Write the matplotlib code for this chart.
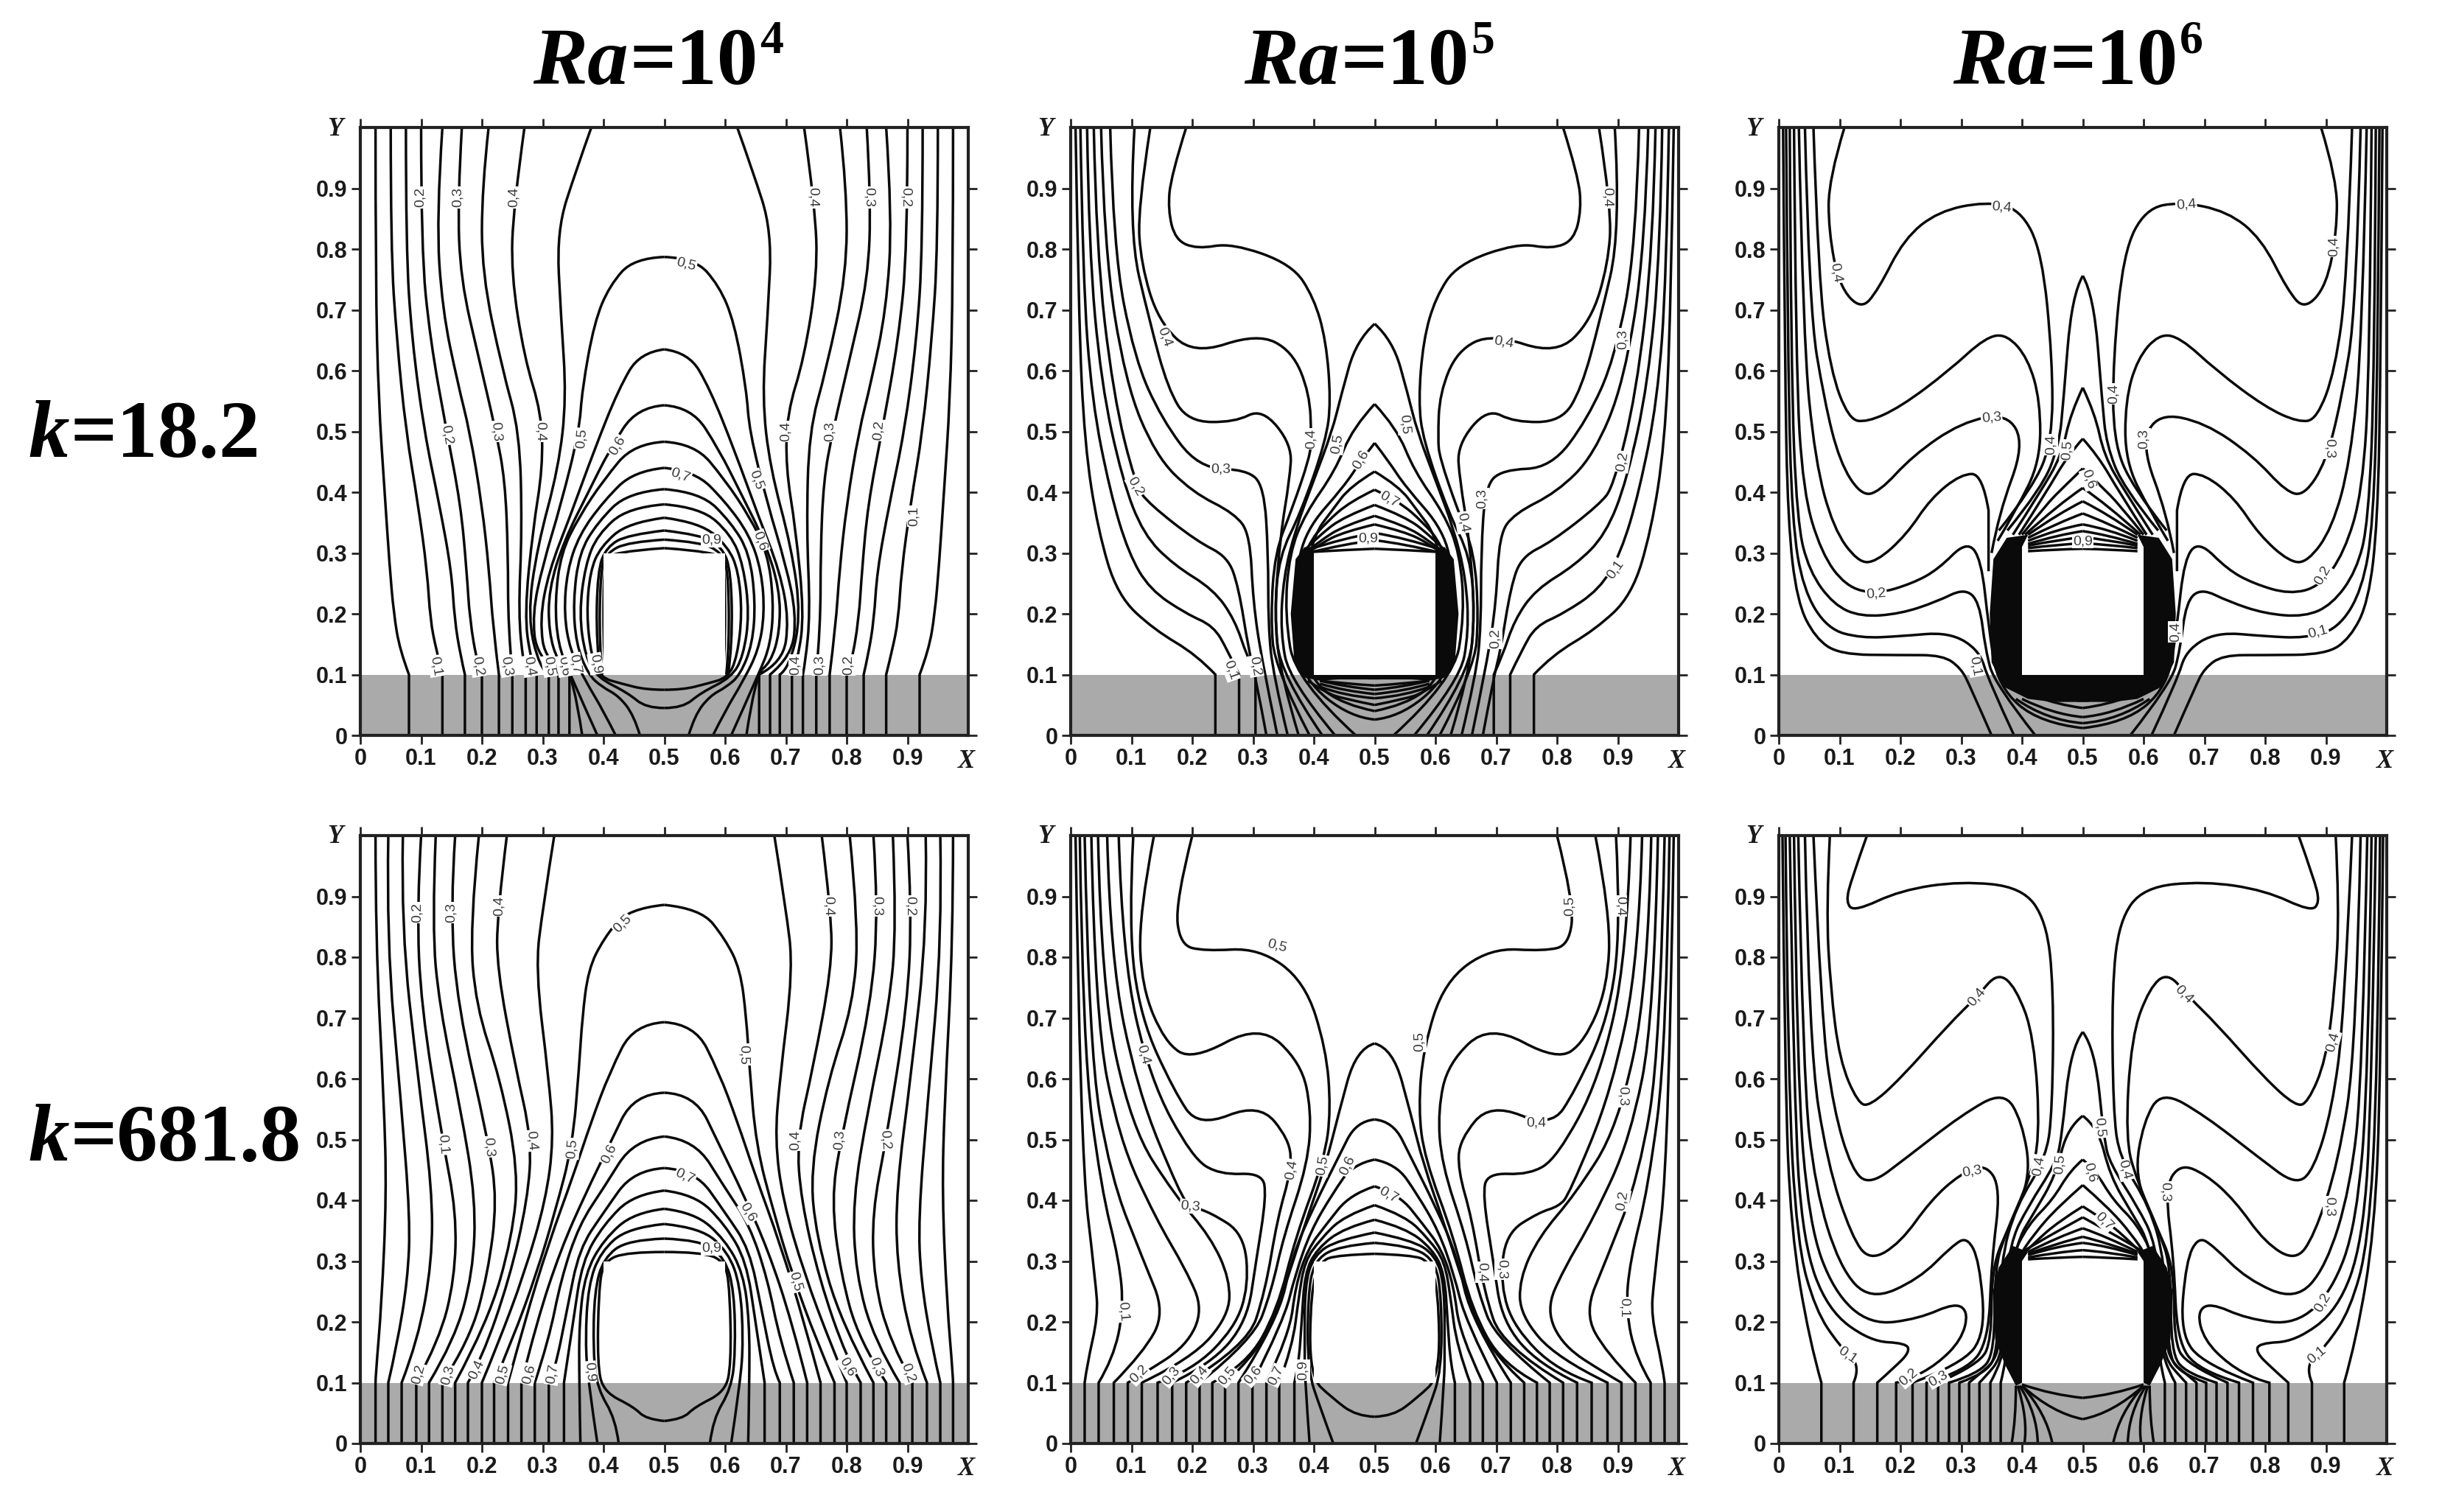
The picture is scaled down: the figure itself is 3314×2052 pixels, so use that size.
import matplotlib
matplotlib.use('Agg')
import matplotlib.pyplot as plt
from matplotlib.path import Path
from matplotlib.patches import PathPatch, Rectangle

W, H = 3314, 2052

# contour lines of the left half, each panel is mirrored about x=0.5
LINES_K18_RA4 = [
    [(.025,1),(.025,.75),(.03,.55),(.04,.4),(.048,.28),(.055,.2),(.065,.14),(.08,.1),(.08,0)],
    [(.05,1),(.05,.8),(.06,.65),(.075,.5),(.095,.38),(.11,.27),(.115,.19),(.125,.14),(.135,.1),(.135,0)],
    [(.075,1),(.075,.8),(.085,.65),(.105,.5),(.13,.38),(.15,.27),(.155,.19),(.165,.13),(.172,.1),(.172,0)],
    [(.1,1),(.1,.8),(.115,.65),(.142,.5),(.165,.38),(.175,.27),(.18,.19),(.193,.115),(.2,.1),(.2,0)],
    [(.135,1),(.125,.85),(.135,.7),(.16,.58),(.18,.5),(.2,.38),(.212,.27),(.218,.18),(.228,.1),(.228,0)],
    [(.167,1),(.16,.88),(.165,.75),(.195,.62),(.223,.5),(.238,.42),(.243,.3),(.243,.18),(.25,.1),(.25,0)],
    [(.211,1),(.2,.9),(.2,.76),(.234,.6),(.262,.5),(.266,.34),(.26,.2),(.268,.12),(.272,.1),(.272,0)],
    [(.27,1),(.252,.87),(.248,.76),(.27,.62),(.298,.53),(.3,.44),(.284,.34),(.27,.2),(.28,.125),(.29,.1),(.29,0)],
    [(.38,1),(.355,.93),(.323,.83),(.33,.69),(.339,.555),(.326,.44),(.291,.31),(.275,.195),(.295,.11),(.31,.1),(.31,0)],
    [(.5,.787),(.45,.785),(.41,.74),(.385,.68),(.365,.57),(.36,.5),(.33,.38),(.3,.28),(.283,.2),(.29,.13),(.326,.1),(.326,0)],
    [(.5,.635),(.46,.63),(.425,.57),(.385,.47),(.345,.36),(.31,.27),(.295,.19),(.305,.12),(.344,.1),(.344,0)],
    [(.5,.543),(.455,.54),(.41,.47),(.375,.4),(.335,.32),(.31,.24),(.31,.17),(.325,.12),(.35,.1),(.365,0)],
    [(.5,.483),(.45,.48),(.4,.42),(.36,.36),(.33,.3),(.32,.22),(.325,.15),(.345,.1),(.39,0)],
    [(.5,.44),(.45,.435),(.4,.385),(.36,.33),(.34,.27),(.335,.2),(.345,.14),(.37,.09),(.4,.04),(.42,0)],
    [(.5,.405),(.44,.4),(.39,.35),(.36,.3),(.35,.22),(.355,.15),(.375,.1),(.397,.08),(.425,.065),(.45,.033),(.46,0)],
    [(.5,.38),(.44,.375),(.39,.33),(.37,.28),(.36,.2),(.37,.13),(.39,.095),(.44,.07),(.47,.045),(.5,.045)],
    [(.5,.358),(.44,.35),(.395,.31),(.378,.27),(.372,.2),(.38,.13),(.395,.095),(.43,.085),(.47,.075),(.5,.075)],
    [(.5,.337),(.44,.33),(.405,.31),(.39,.27),(.388,.15),(.395,.1)],
    [(.5,.322),(.44,.318),(.405,.3),(.395,.27),(.393,.15),(.398,.1)],
    [(.5,.308),(.41,.302),(.4,.28),(.4,.12),(.405,.1)],
]
LABELS_K18_RA4 = [
    (.099,.885,'0,2',90),(.16,.885,'0,3',90),(.252,.885,'0,4',90),(.745,.885,'0,4',-90),(.837,.885,'0,3',-90),
    (.897,.885,'0,2',-90),(.142,.495,'0,2',-80),(.223,.5,'0,3',-85),(.296,.5,'0,4',-90),(.364,.488,'0,5',85),
    (.423,.476,'0,6',60),(.536,.775,'0,5',-15),(.527,.428,'0,7',-20),(.651,.42,'0,5',-70),(.658,.32,'0,6',-70),
    (.578,.321,'0,9',0),(.70,.5,'0,4',90),(.773,.5,'0,3',90),(.853,.502,'0,2',85),(.911,.361,'0,1',90),
    (.124,.114,'0,1',-80),(.193,.114,'0,2',-80),(.241,.114,'0,3',-80),(.278,.114,'0,4',-80),(.311,.114,'0,5',-80),
    (.335,.114,'0,6',-80),(.353,.118,'0,7',-80),(.387,.118,'0,9',-80),(.716,.116,'0,4',90),(.755,.116,'0,3',90),
    (.803,.116,'0,2',90),
]
BAND_K18_RA4 = []

LINES_K18_RA5 = [
    [(.008,1),(.013,.69),(.023,.478),(.045,.337),(.077,.23),(.137,.174),(.208,.132),(.238,.1),(.238,0)],
    [(.016,1),(.02,.75),(.035,.55),(.065,.4),(.095,.3),(.13,.24),(.19,.2),(.235,.18),(.258,.14),(.277,.1),(.277,0)],
    [(.027,1),(.03,.8),(.05,.58),(.085,.42),(.12,.33),(.17,.28),(.235,.24),(.27,.19),(.29,.13),(.304,.1),(.304,0)],
    [(.038,1),(.042,.8),(.07,.56),(.107,.41),(.13,.38),(.208,.319),(.258,.294),(.276,.245),(.293,.139),(.304,.097),(.322,0)],
    [(.05,1),(.055,.8),(.09,.58),(.14,.46),(.2,.40),(.27,.365),(.295,.33),(.30,.22),(.315,.12),(.34,0)],
    [(.065,1),(.07,.8),(.105,.62),(.15,.52),(.21,.44),(.29,.437),(.318,.41),(.325,.3),(.325,.18),(.333,.1),(.357,0)],
    [(.105,1),(.095,.83),(.13,.68),(.16,.57),(.193,.516),(.27,.515),(.315,.538),(.364,.478),(.36,.42),(.345,.33),(.335,.2),(.345,.1),(.375,0)],
    [(.131,1),(.11,.865),(.116,.775),(.144,.682),(.201,.626),(.307,.661),(.364,.633),(.393,.563),(.396,.488),(.393,.457),(.364,.372),(.336,.301),(.329,.195),(.336,.11),(.393,0)],
    [(.19,1),(.165,.92),(.16,.865),(.172,.815),(.208,.80),(.265,.81),(.364,.775),(.4,.72),(.42,.65),(.428,.55),(.42,.485),(.378,.365),(.343,.295),(.335,.2),(.345,.1),(.414,0)],
    [(.5,.677),(.47,.65),(.445,.56),(.43,.5),(.4,.42),(.37,.34),(.35,.26),(.345,.17),(.36,.09),(.435,0)],
    [(.5,.545),(.464,.506),(.435,.435),(.386,.365),(.36,.3),(.352,.2),(.37,.09),(.469,0)],
    [(.5,.481),(.477,.451),(.45,.41),(.386,.337),(.37,.26),(.365,.17),(.385,.09),(.46,.03),(.5,.026)],
    [(.5,.434),(.46,.41),(.43,.37),(.40,.33),(.385,.25),(.38,.17),(.395,.09),(.45,.05),(.5,.04)],
    [(.5,.404),(.46,.385),(.42,.35),(.39,.315),(.375,.27)],
    [(.5,.379),(.45,.36),(.41,.33),(.38,.3)],
    [(.5,.361),(.45,.345),(.41,.32),(.385,.3)],
    [(.5,.347),(.45,.335),(.41,.315),(.39,.3)],
    [(.5,.333),(.45,.325),(.39,.305)],
    [(.5,.321),(.45,.315),(.39,.3)],
    [(.5,.307),(.45,.305),(.4,.302)],
    [(.5,.05),(.45,.06),(.42,.07),(.39,.09)],
    [(.5,.061),(.45,.065),(.41,.08)],
    [(.5,.068),(.45,.073),(.41,.085)],
    [(.5,.075),(.45,.08),(.41,.09)],
    [(.5,.082),(.45,.085),(.41,.09)],
]
LABELS_K18_RA5 = [
    (.883,.885,'0,4',-90),(.155,.655,'0,4',-70),(.712,.647,'0,4',-10),(.908,.652,'0,3',90),(.396,.488,'0,4',90),
    (.439,.48,'0,5',80),(.549,.512,'0,5',-85),(.477,.453,'0,6',60),(.247,.437,'0,3',0),(.107,.41,'0,2',-60),
    (.908,.45,'0,2',80),(.524,.388,'0,7',-30),(.677,.39,'0,3',90),(.645,.35,'0,4',-80),(.489,.324,'0,9',0),
    (.896,.273,'0,1',55),(.698,.159,'0,2',90),(.263,.107,'0,1',-70),(.304,.114,'0,2',-80),
]
BAND_K18_RA5 = [(.40,.305),(.385,.31),(.37,.29),(.362,.2),(.368,.12),(.385,.095),(.41,.09),(.44,.092),(.51,.092),(.51,.1),(.4,.1)]

LINES_K18_RA6 = [
    [(.007,1),(.01,.6),(.015,.35),(.03,.22),(.06,.16),(.1,.133),(.2,.132),(.27,.132),(.3,.11),(.315,.08),(.35,0)],
    [(.012,1),(.015,.6),(.022,.35),(.04,.24),(.08,.175),(.135,.16),(.2,.163),(.28,.17),(.33,.14),(.345,.09),(.387,0)],
    [(.018,1),(.02,.6),(.03,.35),(.05,.27),(.09,.215),(.135,.195),(.2,.2),(.26,.22),(.305,.242),(.33,.22),(.34,.14),(.355,.085),(.422,0)],
    [(.025,1),(.028,.6),(.04,.4),(.07,.3),(.11,.245),(.16,.232),(.22,.25),(.262,.273),(.309,.32),(.333,.29),(.345,.18),(.36,.08),(.43,.02),(.5,.012)],
    [(.033,1),(.04,.65),(.06,.45),(.09,.34),(.13,.285),(.16,.285),(.21,.33),(.25,.39),(.3,.43),(.335,.43),(.345,.37),(.345,.27)],
    [(.043,1),(.05,.7),(.075,.55),(.1,.45),(.135,.395),(.165,.4),(.22,.46),(.3,.515),(.376,.53),(.404,.478),(.362,.365),(.35,.3)],
    [(.057,1),(.065,.75),(.085,.6),(.115,.52),(.145,.515),(.2,.54),(.28,.6),(.34,.655),(.375,.66),(.41,.62),(.43,.55),(.43,.45),(.39,.37),(.36,.32)],
    [(.108,1),(.082,.915),(.082,.83),(.099,.74),(.135,.7),(.163,.732),(.206,.817),(.262,.862),(.34,.878),(.397,.866),(.433,.795),(.45,.619),(.45,.485),(.418,.407),(.362,.337)],
    [(.5,.756),(.482,.725),(.468,.548),(.461,.478),(.433,.407),(.376,.337)],
    [(.5,.572),(.48,.53),(.465,.46),(.43,.4),(.385,.33)],
    [(.5,.488),(.475,.46),(.44,.4),(.395,.33)],
    [(.5,.439),(.47,.41),(.44,.38),(.4,.33)],
    [(.5,.407),(.46,.38),(.405,.33)],
    [(.5,.385),(.46,.365),(.41,.33)],
    [(.5,.365),(.46,.35),(.41,.325)],
    [(.5,.347),(.46,.34),(.41,.32)],
    [(.5,.336),(.46,.33),(.41,.315)],
    [(.5,.326),(.46,.322),(.41,.312)],
    [(.5,.316),(.46,.314),(.41,.308)],
    [(.5,.307),(.46,.306),(.41,.303)],
    [(.5,.045),(.46,.05),(.42,.065)],
    [(.5,.03),(.45,.035),(.4,.06)],
    [(.5,.02),(.44,.025),(.39,.06)],
]
LABELS_K18_RA6 = [
    (.367,.869,'0,4',-5),(.67,.873,'0,4',5),(.094,.761,'0,4',-80),(.913,.804,'0,4',90),(.35,.522,'0,3',5),
    (.6,.488,'0,3',90),(.448,.478,'0,4',90),(.474,.469,'0,5',85),(.55,.562,'0,4',90),(.906,.472,'0,3',-90),
    (.51,.421,'0,6',-70),(.16,.233,'0,2',5),(.895,.263,'0,2',60),(.887,.17,'0,1',15),(.652,.17,'0,4',90),
    (.323,.114,'0,1',-80),(.5,.319,'0,9',0),
]
BAND_K18_RA6 = [(.41,.33),(.375,.325),(.353,.29),(.347,.2),(.35,.12),(.37,.08),(.41,.06),(.45,.055),(.51,.055),(.51,.1),(.4,.1),(.4,.31)]

LINES_K68_RA4 = [
    [(.025,1),(.025,.83),(.039,.56),(.043,.41),(.035,.23),(.025,.11),(.025,.1),(.025,0)],
    [(.046,1),(.043,.83),(.067,.56),(.082,.37),(.078,.27),(.06,.16),(.046,.1),(.046,0)],
    [(.07,1),(.067,.85),(.095,.6),(.118,.42),(.118,.3),(.095,.17),(.068,.1),(.068,0)],
    [(.1,1),(.093,.88),(.1,.72),(.135,.5),(.158,.38),(.155,.27),(.13,.17),(.092,.1),(.092,0)],
    [(.124,1),(.118,.85),(.13,.72),(.165,.55),(.19,.4),(.185,.28),(.155,.17),(.113,.1),(.113,0)],
    [(.156,1),(.148,.88),(.16,.72),(.21,.5),(.225,.4),(.21,.28),(.18,.17),(.135,.1),(.135,0)],
    [(.195,1),(.18,.85),(.19,.72),(.23,.6),(.26,.45),(.25,.34),(.21,.2),(.156,.1),(.156,0)],
    [(.241,1),(.225,.87),(.225,.78),(.255,.62),(.282,.5),(.275,.4),(.245,.27),(.2,.14),(.177,.1),(.177,0)],
    [(.319,1),(.3,.88),(.288,.78),(.31,.6),(.318,.5),(.305,.4),(.27,.28),(.225,.16),(.2,.1),(.2,0)],
    [(.5,.886),(.44,.88),(.4,.83),(.375,.78),(.365,.7),(.36,.62),(.349,.49),(.32,.38),(.29,.28),(.25,.17),(.22,.1),(.22,0)],
    [(.5,.693),(.45,.69),(.41,.61),(.38,.53),(.35,.44),(.31,.33),(.27,.2),(.243,.1),(.243,0)],
    [(.5,.577),(.45,.575),(.409,.49),(.37,.41),(.33,.32),(.29,.2),(.265,.1),(.265,0)],
    [(.5,.505),(.45,.5),(.4,.42),(.36,.36),(.33,.27),(.31,.17),(.287,.1),(.287,0)],
    [(.5,.453),(.45,.45),(.4,.38),(.36,.32),(.34,.22),(.32,.12),(.31,.1),(.31,0)],
    [(.5,.416),(.45,.41),(.4,.36),(.365,.3),(.35,.2),(.335,.1),(.335,0)],
    [(.5,.386),(.45,.38),(.4,.335),(.37,.28),(.36,.2),(.36,.1),(.362,0)],
    [(.5,.361),(.44,.355),(.395,.315),(.375,.26),(.37,.17),(.375,.1),(.39,0)],
    [(.5,.337),(.44,.335),(.4,.305),(.385,.25),(.383,.15),(.39,.09),(.42,.04),(.425,0)],
    [(.5,.315),(.44,.315),(.4,.3),(.392,.25),(.39,.13),(.4,.085),(.45,.06),(.47,.04),(.5,.037)],
]
LABELS_K68_RA4 = [
    (.094,.873,'0,2',90),(.149,.873,'0,3',90),(.228,.884,'0,4',90),(.77,.884,'0,4',-90),(.85,.884,'0,3',-90),
    (.904,.884,'0,2',-90),(.431,.855,'0,5',45),(.631,.64,'0,5',-90),(.136,.492,'0,1',-85),(.211,.488,'0,3',-85),
    (.282,.498,'0,4',-85),(.349,.485,'0,5',85),(.409,.476,'0,6',65),(.534,.439,'0,7',-25),(.638,.38,'0,6',-60),
    (.716,.266,'0,5',-75),(.578,.321,'0,9',0),(.715,.499,'0,4',90),(.789,.499,'0,3',85),(.864,.499,'0,2',-85),
    (.096,.114,'0,2',75),(.144,.112,'0,3',75),(.191,.121,'0,4',65),(.234,.114,'0,5',75),(.277,.114,'0,6',75),
    (.316,.114,'0,7',80),(.377,.118,'0,9',-85),(.801,.126,'0,6',-60),(.849,.126,'0,3',-70),(.901,.116,'0,2',-70),
]
BAND_K68_RA4 = []

LINES_K68_RA5 = [
    [(.008,1),(.016,.48),(.041,.265),(.045,.21),(.027,.13),(.023,.1),(.023,0)],
    [(.015,1),(.02,.65),(.05,.42),(.08,.3),(.087,.22),(.07,.14),(.046,.1),(.046,0)],
    [(.023,1),(.03,.65),(.065,.44),(.12,.3),(.155,.215),(.12,.15),(.071,.1),(.071,0)],
    [(.034,1),(.04,.7),(.08,.5),(.14,.37),(.19,.285),(.218,.22),(.19,.16),(.12,.115),(.094,.1),(.094,0)],
    [(.045,1),(.05,.75),(.1,.52),(.17,.41),(.23,.34),(.262,.27),(.26,.21),(.2,.14),(.117,.1),(.117,0)],
    [(.06,1),(.065,.8),(.11,.58),(.18,.41),(.197,.39),(.23,.38),(.285,.345),(.293,.26),(.27,.19),(.2,.12),(.143,.1),(.143,0)],
    [(.079,1),(.085,.8),(.13,.6),(.2,.47),(.245,.442),(.315,.445),(.322,.407),(.305,.3),(.29,.2),(.23,.13),(.167,.1),(.167,0)],
    [(.103,1),(.095,.85),(.115,.7),(.17,.58),(.21,.52),(.31,.56),(.36,.5),(.363,.45),(.34,.37),(.32,.25),(.29,.16),(.19,.1),(.19,0)],
    [(.137,1),(.112,.87),(.117,.75),(.155,.66),(.2,.63),(.311,.69),(.379,.626),(.396,.548),(.39,.46),(.35,.34),(.33,.25),(.3,.17),(.212,.1),(.212,0)],
    [(.2,1),(.172,.89),(.18,.82),(.22,.81),(.31,.815),(.385,.76),(.42,.65),(.428,.55),(.418,.47),(.37,.34),(.34,.22),(.29,.13),(.233,.1),(.233,0)],
    [(.5,.658),(.47,.65),(.44,.54),(.42,.46),(.385,.36),(.35,.25),(.31,.15),(.254,.1),(.254,0)],
    [(.5,.533),(.47,.53),(.44,.47),(.4,.39),(.365,.31),(.34,.2),(.276,.1),(.276,0)],
    [(.5,.467),(.465,.46),(.43,.41),(.395,.35),(.37,.28),(.35,.2),(.299,.1),(.299,0)],
    [(.5,.423),(.46,.41),(.42,.36),(.39,.32),(.37,.26),(.36,.18),(.322,.1),(.322,0)],
    [(.5,.392),(.45,.375),(.41,.335),(.385,.3),(.375,.24),(.365,.16),(.343,.1),(.343,0)],
    [(.5,.368),(.45,.355),(.405,.32),(.385,.28),(.38,.2),(.375,.13),(.368,.1),(.368,0)],
    [(.5,.347),(.44,.335),(.4,.31),(.385,.26),(.385,.15),(.385,.11),(.393,0)],
    [(.5,.33),(.44,.325),(.4,.3),(.39,.24),(.39,.12),(.41,.06),(.432,0)],
    [(.5,.312),(.44,.31),(.41,.3),(.395,.25),(.393,.11),(.43,.075),(.47,.045),(.5,.044)],
]
LABELS_K68_RA5 = [
    (.821,.884,'0,5',90),(.904,.884,'0,4',-90),(.339,.818,'0,5',-15),(.119,.64,'0,4',-75),(.574,.661,'0,5',90),
    (.908,.571,'0,3',-90),(.766,.527,'0,4',0),(.363,.45,'0,4',80),(.414,.457,'0,5',80),(.455,.457,'0,6',65),
    (.523,.409,'0,7',-30),(.197,.39,'0,3',-5),(.908,.4,'0,2',80),(.709,.287,'0,3',-90),(.677,.282,'0,4',-90),
    (.087,.217,'0,1',-85),(.91,.224,'0,1',-90),(.112,.114,'0,2',45),(.165,.111,'0,3',50),(.212,.112,'0,4',50),
    (.258,.111,'0,5',50),(.3,.112,'0,6',50),(.338,.112,'0,7',65),(.382,.121,'0,9',90),
]
BAND_K68_RA5 = []

LINES_K68_RA6 = [
    [(.006,1),(.01,.6),(.02,.35),(.05,.17),(.07,.1),(.07,0)],
    [(.011,1),(.015,.6),(.03,.33),(.06,.22),(.1,.16),(.135,.128),(.123,.1),(.123,0)],
    [(.018,1),(.025,.55),(.04,.33),(.08,.22),(.15,.168),(.21,.165),(.215,.15),(.19,.125),(.162,.1),(.162,0)],
    [(.025,1),(.03,.6),(.05,.36),(.09,.25),(.15,.195),(.23,.205),(.291,.232),(.312,.215),(.3,.17),(.26,.13),(.214,.105),(.193,.1),(.193,0)],
    [(.032,1),(.04,.6),(.06,.42),(.1,.29),(.15,.235),(.23,.27),(.285,.325),(.31,.34),(.33,.3),(.34,.18),(.3,.13),(.22,.1),(.22,0)],
    [(.043,1),(.05,.65),(.08,.46),(.12,.34),(.15,.3),(.2,.33),(.25,.4),(.298,.443),(.34,.46),(.365,.421),(.35,.3),(.345,.17),(.31,.12),(.243,.1),(.243,0)],
    [(.057,1),(.07,.7),(.09,.55),(.12,.45),(.15,.425),(.21,.47),(.3,.54),(.37,.58),(.4,.53),(.415,.44),(.38,.36),(.35,.29),(.35,.17),(.33,.13),(.262,.1),(.262,0)],
    [(.084,1),(.078,.88),(.085,.75),(.1,.63),(.13,.56),(.15,.555),(.2,.6),(.28,.69),(.326,.735),(.36,.775),(.39,.75),(.42,.67),(.43,.5),(.41,.43),(.375,.35),(.355,.29),(.355,.15),(.33,.115),(.28,.1),(.28,0)],
    [(.145,1),(.12,.93),(.11,.89),(.125,.875),(.2,.91),(.3,.925),(.4,.915),(.44,.86),(.452,.75),(.45,.55),(.44,.47),(.39,.39),(.365,.3),(.36,.15),(.34,.115),(.297,.1),(.297,0)],
    [(.5,.677),(.48,.65),(.465,.5),(.455,.46),(.41,.39),(.38,.33),(.365,.2),(.36,.14),(.325,.11),(.313,.1),(.313,0)],
    [(.5,.539),(.475,.52),(.455,.44),(.42,.38),(.39,.33),(.37,.2),(.365,.14),(.34,.11),(.33,.1),(.33,0)],
    [(.5,.467),(.48,.45),(.45,.4),(.41,.36),(.38,.3),(.372,.2),(.37,.14),(.348,.1),(.348,0)],
    [(.5,.425),(.46,.39),(.42,.345),(.39,.3),(.375,.2),(.375,.14),(.365,.1),(.365,0)],
    [(.5,.39),(.46,.365),(.42,.33),(.39,.3)],
    [(.5,.372),(.46,.35),(.425,.33),(.4,.315)],
    [(.5,.354),(.46,.34),(.41,.315)],
    [(.5,.34),(.46,.33),(.41,.312)],
    [(.5,.33),(.46,.325),(.41,.31)],
    [(.5,.318),(.46,.315),(.41,.306)],
    [(.5,.307),(.46,.306),(.41,.303)],
    [(.39,.095),(.39,.04),(.383,0)],
    [(.393,.095),(.41,.04),(.404,0)],
    [(.396,.095),(.425,.05),(.426,0)],
    [(.4,.095),(.44,.05),(.45,0)],
    [(.5,.04),(.45,.05),(.4,.095)],
    [(.5,.075),(.45,.08),(.4,.097)],
]
LABELS_K68_RA6 = [
    (.325,.734,'0,4',50),(.667,.739,'0,4',-45),(.911,.661,'0,4',75),(.528,.52,'0,5',-85),(.318,.447,'0,3',10),
    (.427,.457,'0,4',80),(.462,.46,'0,5',85),(.512,.446,'0,6',-75),(.569,.45,'0,4',-75),(.635,.414,'0,3',-90),
    (.906,.39,'0,3',-90),(.535,.365,'0,7',-45),(.895,.232,'0,2',60),(.113,.145,'0,1',-35),(.885,.146,'0,1',40),
    (.214,.109,'0,2',40),(.262,.107,'0,3',30),
]
BAND_K68_RA6 = [(.41,.315),(.385,.325),(.362,.29),(.352,.25),(.356,.17),(.372,.13),(.39,.095),(.4,.1),(.4,.3)]

TICKS = [0, .1, .2, .3, .4, .5, .6, .7, .8, .9]
TICK_LABELS = ['0', '0.1', '0.2', '0.3', '0.4', '0.5', '0.6', '0.7', '0.8', '0.9']

COLS = [489, 1453, 2414]
ROWS = [173, 1134]
SIZE = 825

PANELS = [
    (0, 0, LINES_K18_RA4, LABELS_K18_RA4, BAND_K18_RA4),
    (1, 0, LINES_K18_RA5, LABELS_K18_RA5, BAND_K18_RA5),
    (2, 0, LINES_K18_RA6, LABELS_K18_RA6, BAND_K18_RA6),
    (0, 1, LINES_K68_RA4, LABELS_K68_RA4, BAND_K68_RA4),
    (1, 1, LINES_K68_RA5, LABELS_K68_RA5, BAND_K68_RA5),
    (2, 1, LINES_K68_RA6, LABELS_K68_RA6, BAND_K68_RA6),
]


def smooth_path(pts):
    # quadratic curve through the midpoints, a straight last piece stays straight
    if len(pts) == 2:
        return Path(pts)
    tail = None
    if len(pts) > 3 and pts[-1][0] == pts[-2][0]:
        tail = pts[-1]
        pts = pts[:-1]
    verts = [pts[0]]
    codes = [Path.MOVETO]
    for i in range(1, len(pts) - 1):
        if i == len(pts) - 2:
            end = pts[i + 1]
        else:
            end = ((pts[i][0] + pts[i + 1][0]) / 2, (pts[i][1] + pts[i + 1][1]) / 2)
        verts += [pts[i], end]
        codes += [Path.CURVE3, Path.CURVE3]
    if tail:
        verts.append(tail)
        codes.append(Path.LINETO)
    return Path(verts, codes)


def flip(pts):
    return [(1 - x, y) for x, y in pts]


def draw_panel(fig, col, row, lines, labels, band):
    left = COLS[col]
    top = ROWS[row]
    ax = fig.add_axes([left / W, 1 - (top + SIZE) / H, SIZE / W, SIZE / H])
    ax.set_xlim(0, 1)
    ax.set_ylim(0, 1)
    ax.add_patch(Rectangle((0, 0), 1, .1, fc='#aaaaaa', ec='none', zorder=1))
    for pts in lines:
        for p in (pts, flip(pts)):
            ax.add_patch(PathPatch(smooth_path(p), fc='none', ec='#0a0a0a', lw=2.5, zorder=2))
    if band:
        ax.fill([p[0] for p in band], [p[1] for p in band], color='#0a0a0a', lw=0, zorder=2)
        ax.fill([1 - p[0] for p in band], [p[1] for p in band], color='#0a0a0a', lw=0, zorder=2)
    ax.add_patch(Rectangle((.4, .1), .2, .2, fc='white', ec='none', zorder=3))
    for x, y, s, rot in labels:
        ax.text(x, y, s, rotation=rot, ha='center', va='center', fontsize=14, color='#3a3a3a',
                family='Liberation Sans', zorder=4, rotation_mode='anchor',
                bbox=dict(fc='white', ec='none', pad=0.8))
    for side in ax.spines.values():
        side.set_linewidth(3)
        side.set_color('#222222')
        side.set_zorder(5)
    ax.set_xticks(TICKS)
    ax.set_yticks(TICKS)
    ax.set_xticklabels(TICK_LABELS)
    ax.set_yticklabels(TICK_LABELS)
    ax.tick_params(top=True, right=True, direction='out', length=8.5, width=2, color='#222222',
                   labelsize=22, pad=4)
    for t in ax.get_xticklabels() + ax.get_yticklabels():
        t.set_family('Liberation Sans')
        t.set_fontweight('bold')
        t.set_color('#1a1a1a')
    fig.text((left - 34) / W, 1 - (top + 2) / H, 'Y', family='Liberation Serif', style='italic',
             weight='bold', fontsize=25, ha='center', va='center', color='#1a1a1a')
    fig.text((left + SIZE - 3) / W, 1 - (top + SIZE + 35) / H, 'X', family='Liberation Serif', style='italic',
             weight='bold', fontsize=25, ha='center', va='center', color='#1a1a1a')


def chain_text(fig, x, base, parts):
    # parts are (text, italic, superscript), set one after the other
    renderer = fig.canvas.get_renderer()
    for s, italic, sup in parts:
        t = fig.text(x / W, 1 - (base - (42 if sup else 0)) / H, s, family='Liberation Serif',
                     style='italic' if italic else 'normal', weight='bold',
                     fontsize=46 if sup else 80, ha='left', va='baseline', color='black')
        x = t.get_window_extent(renderer).x1 + 2


fig = plt.figure(figsize=(W / 100, H / 100), dpi=100, facecolor='white')
for col, row, lines, labels, band in PANELS:
    draw_panel(fig, col, row, lines, labels, band)

for x, power in zip([723, 1688, 2650], ['4', '5', '6']):
    chain_text(fig, x, 114, [('Ra', True, False), ('=10', False, False), (power, False, True)])
chain_text(fig, 38, 620, [('k', True, False), ('=18.2', False, False)])
chain_text(fig, 38, 1575, [('k', True, False), ('=681.8', False, False)])

fig.savefig('out.png', dpi=100, facecolor='white')
